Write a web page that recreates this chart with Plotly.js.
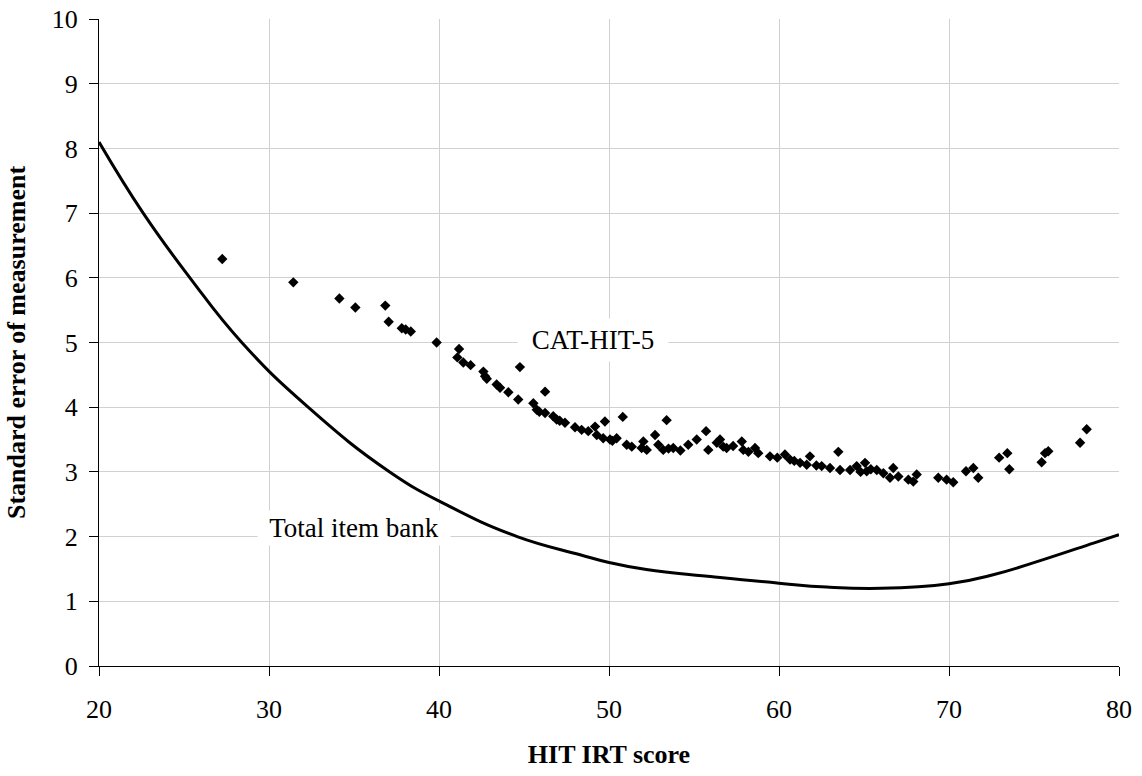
<!DOCTYPE html>
<html>
<head>
<meta charset="utf-8">
<script src="https://cdn.plot.ly/plotly-3.0.1.min.js"></script>
<style>html,body{margin:0;padding:0;background:#fff;}#chart{width:1142px;height:776px;}</style>
</head>
<body>
<div id="chart"></div>
<script>
// CAT-HIT-5 scatter (HIT IRT score, standard error)
const catX = [27.25,31.43,34.14,35.08,36.84,37.04,37.81,38.04,38.34,39.86,41.18,41.08,41.43,41.86,42.61,42.71,42.81,43.39,43.59,44.76,44.08,44.66,46.24,45.55,45.75,46.24,46.72,46.92,47.41,48.00,48.39,48.78,49.18,49.76,49.28,49.66,50.06,50.45,50.81,51.04,51.34,52.02,51.92,52.22,52.71,53.39,52.90,53.19,53.78,54.66,55.16,55.71,55.84,56.34,56.72,56.53,56.92,57.81,57.90,58.59,58.78,59.47,60.35,60.65,61.24,61.82,61.63,63.49,62.51,63.00,63.59,64.18,64.57,65.06,65.16,65.75,66.14,66.72,66.53,67.02,67.61,68.10,67.90,69.37,69.86,70.25,71.00,71.43,71.72,72.95,73.43,73.55,75.45,75.65,75.84,77.71,78.10,45.9,47.1,50.2,53.5,54.2,57.3,58.2,59.9,60.9,62.2,64.8,65.4];
const catY = [6.29,5.93,5.68,5.54,5.57,5.32,5.22,5.20,5.17,5.00,4.90,4.77,4.69,4.65,4.55,4.48,4.44,4.35,4.30,4.62,4.23,4.12,4.24,4.06,3.96,3.91,3.86,3.81,3.76,3.69,3.65,3.63,3.70,3.78,3.57,3.52,3.50,3.52,3.85,3.42,3.39,3.47,3.37,3.34,3.57,3.80,3.42,3.34,3.37,3.42,3.50,3.63,3.34,3.45,3.39,3.50,3.37,3.47,3.34,3.37,3.29,3.24,3.27,3.19,3.14,3.24,3.11,3.31,3.09,3.06,3.03,3.03,3.09,3.14,3.01,3.03,2.98,3.06,2.91,2.93,2.88,2.96,2.85,2.91,2.88,2.84,3.01,3.06,2.91,3.22,3.29,3.04,3.15,3.29,3.32,3.45,3.66,3.93,3.79,3.48,3.36,3.33,3.40,3.31,3.22,3.17,3.10,3.00,3.04];

// Total item bank curve
const bankX = [20,22.6,25.35,28.4,32.3,37.1,40.45,44.6,48.3,50,52.2,56.1,60,62.8,66,70,72.6,75.5,78.5,80];
const bankY = [8.1,7.0,6.0,5.0,4.0,3.0,2.49,2.0,1.72,1.60,1.49,1.38,1.28,1.22,1.20,1.27,1.41,1.64,1.90,2.03];

const xTicks = [20,30,40,50,60,70,80];
const yTicks = [0,1,2,3,4,5,6,7,8,9,10];

const serif = "Liberation Serif, Times New Roman, serif";

const traces = [
  {x: bankX, y: bankY, type: 'scatter', mode: 'lines',
   line: {color: '#000', width: 3, shape: 'spline', smoothing: 1.3}, hoverinfo: 'skip'},
  {x: catX, y: catY, type: 'scatter', mode: 'markers',
   marker: {symbol: 'diamond', size: 8, color: '#000'}, hoverinfo: 'skip'}
];

const layout = {
  width: 1142, height: 776,
  margin: {l: 99, r: 23, t: 19, b: 110},
  paper_bgcolor: '#fff', plot_bgcolor: '#fff',
  showlegend: false,
  font: {family: serif, color: '#000', size: 26},
  xaxis: {
    range: [20, 80], tickvals: xTicks, ticktext: xTicks.map(String),
    showgrid: true, gridcolor: '#d0d0d0', gridwidth: 1,
    showline: true, linecolor: '#000', linewidth: 1,
    ticks: 'outside', ticklen: 9, tickcolor: '#000',
    tickfont: {family: serif, size: 26, color: '#000'},
    ticklabelstandoff: 11,
    zeroline: false, automargin: false,
    title: {text: '<b>HIT IRT score</b>', font: {family: serif, size: 26, color: '#000'}, standoff: 21}
  },
  yaxis: {
    range: [0, 10], tickvals: yTicks, ticktext: yTicks.map(String),
    showgrid: true, gridcolor: '#d0d0d0', gridwidth: 1,
    showline: true, linecolor: '#000', linewidth: 1,
    ticks: 'outside', ticklen: 9, tickcolor: '#000',
    tickfont: {family: serif, size: 26, color: '#000'},
    ticklabelstandoff: 6,
    zeroline: false, automargin: false,
    title: {text: '<b>Standard error of measurement</b>', font: {family: serif, size: 26, color: '#000'}, standoff: 18}
  },
  annotations: [
    {x: 49.08, y: 5.04, xref: 'x', yref: 'y', text: 'CAT-HIT-5', showarrow: false,
     font: {family: serif, size: 27, color: '#000'}, bgcolor: '#fff', borderpad: 0, width: 150, height: 42},
    {x: 35.01, y: 2.14, xref: 'x', yref: 'y', text: 'Total item bank', showarrow: false,
     font: {family: serif, size: 27, color: '#000'}, bgcolor: '#fff', borderpad: 0, width: 192, height: 34}
  ]
};

Plotly.newPlot('chart', traces, layout, {displayModeBar: false, staticPlot: true});
</script>
</body>
</html>
